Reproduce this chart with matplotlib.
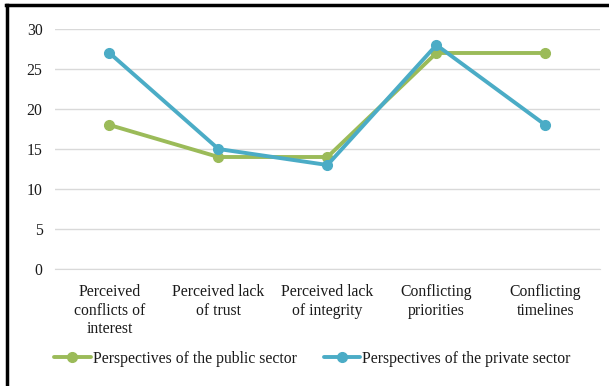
import matplotlib.pyplot as plt
from matplotlib.lines import Line2D

# Categories and scores
categories = ['Perceived\nconflicts of\ninterest', 'Perceived lack\nof trust',
              'Perceived lack\nof integrity', 'Conflicting\npriorities',
              'Conflicting\ntimelines']
public_sector = [18, 14, 14, 27, 27]
private_sector = [27, 15, 13, 28, 18]
y_ticks = [0, 5, 10, 15, 20, 25, 30]

green = '#9BBB59'
blue = '#4BACC6'

plt.rcParams['font.family'] = ['Liberation Serif', 'DejaVu Serif']
plt.rcParams['font.size'] = 11.3

fig = plt.figure(figsize=(6.09, 3.86), dpi=100)
ax = fig.add_axes([0.0903, 0.3031, 0.8947, 0.6218])

x = range(len(categories))
ax.plot(x, public_sector, color=green, linewidth=2.8, marker='o', markersize=7,
        label='Perspectives of the public sector', solid_capstyle='round')
ax.plot(x, private_sector, color=blue, linewidth=2.8, marker='o', markersize=7,
        label='Perspectives of the private sector', solid_capstyle='round')

ax.set_xlim(-0.5, len(categories) - 0.5)
ax.set_ylim(0, 30)
ax.set_yticks(y_ticks)
ax.set_xticks(list(x))
ax.set_xticklabels(categories, linespacing=1.2, color='#1a1a1a')
ax.tick_params(axis='both', length=0, labelsize=11.3, colors='#1a1a1a')
ax.tick_params(axis='y', pad=9)
ax.tick_params(axis='x', pad=11)
ax.yaxis.grid(True, color='#d9d9d9', linewidth=1)
ax.set_axisbelow(True)
for side in ['top', 'right', 'left']:
    ax.spines[side].set_visible(False)
ax.spines['bottom'].set_color('#d9d9d9')

leg = fig.legend(loc='center', bbox_to_anchor=(0.513, 0.071), ncol=2, frameon=False,
                 handlelength=2.3, handletextpad=0.13, columnspacing=1.75,
                 fontsize=11.3)
for txt in leg.get_texts():
    txt.set_color('#1a1a1a')

# Frame lines along the left and top edge
fig.add_artist(Line2D([0.0115, 0.0115], [0, 0.988], color='black', linewidth=2.5,
                      transform=fig.transFigure))
fig.add_artist(Line2D([0.0095, 1.0], [0.986, 0.986], color='black', linewidth=2.5,
                      transform=fig.transFigure))

fig.savefig('out.png', dpi=100)
